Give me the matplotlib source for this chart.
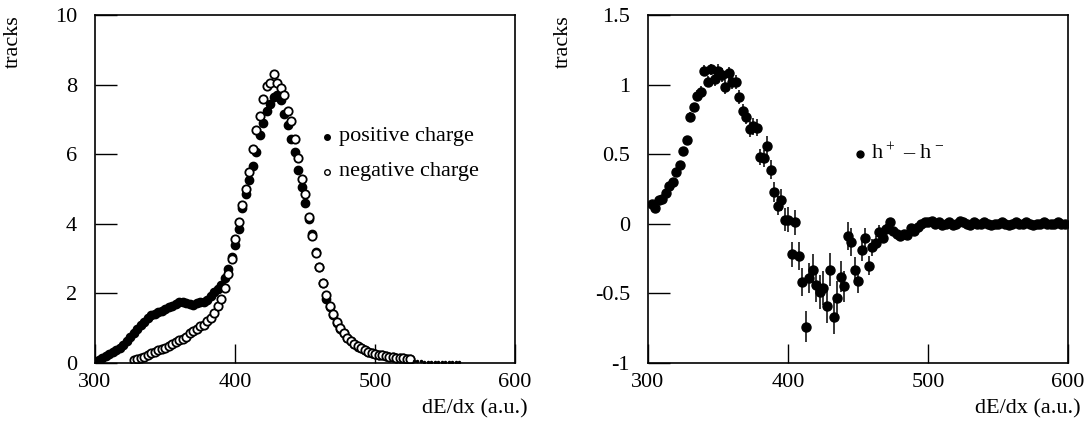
import numpy as np
import matplotlib
matplotlib.use("Agg")
import matplotlib.pyplot as plt

plt.rcParams['font.family'] = ['Liberation Serif', 'DejaVu Serif']
plt.rcParams['mathtext.fontset'] = 'custom'
plt.rcParams['mathtext.rm'] = 'Liberation Serif'
plt.rcParams['mathtext.default'] = 'regular'

# bin centres (dE/dx, a.u.)
pos_x = np.arange(302.5, 525.1, 2.5)
neg_x = np.arange(327.5, 525.1, 2.5)
tail_x = np.arange(527.5, 560.1, 2.5)
diff_x = np.arange(302.5, 597.6, 2.5)

# positive charge tracks
pos_y = [0.10, 0.15, 0.20, 0.25, 0.31, 0.37, 0.44, 0.52, 0.62, 0.74,
         0.86, 0.98, 1.09, 1.18, 1.30, 1.38, 1.42, 1.47, 1.50, 1.55,
         1.60, 1.63, 1.70, 1.74, 1.76, 1.72, 1.70, 1.68, 1.72, 1.75,
         1.74, 1.80, 1.92, 2.05, 2.14, 2.25, 2.45, 2.70, 3.05, 3.40,
         3.85, 4.45, 4.85, 5.25, 5.65, 6.05, 6.55, 6.90, 7.25, 7.45,
         7.65, 7.70, 7.55, 7.15, 6.85, 6.45, 6.05, 5.55, 5.05, 4.60,
         4.15, 3.70, 3.20, 2.75, 2.30, 1.85, 1.60, 1.38, 1.15, 0.98,
         0.85, 0.72, 0.62, 0.54, 0.47, 0.42, 0.38, 0.33, 0.30, 0.27,
         0.24, 0.22, 0.20, 0.18, 0.17, 0.15, 0.14, 0.13, 0.12, 0.12]

# negative charge tracks
neg_y = [0.10, 0.12, 0.15, 0.18, 0.22, 0.28, 0.32, 0.36, 0.40, 0.44,
         0.50, 0.54, 0.60, 0.65, 0.70, 0.76, 0.85, 0.93, 0.98, 1.05,
         1.10, 1.20, 1.30, 1.45, 1.65, 1.85, 2.15, 2.55, 3.00, 3.55,
         4.05, 4.55, 5.00, 5.50, 6.15, 6.70, 7.10, 7.60, 7.95, 8.05,
         8.30, 8.05, 7.90, 7.70, 7.25, 6.95, 6.45, 5.90, 5.30, 4.85,
         4.20, 3.65, 3.15, 2.75, 2.30, 1.95, 1.65, 1.42, 1.18, 1.00,
         0.86, 0.73, 0.63, 0.55, 0.48, 0.42, 0.38, 0.33, 0.30, 0.27,
         0.24, 0.22, 0.20, 0.18, 0.17, 0.15, 0.14, 0.13, 0.12, 0.12]

tail_y = [0.06, 0.05, 0.05, 0.04, 0.04, 0.04, 0.03, 0.03, 0.03, 0.03,
          0.02, 0.02, 0.02, 0.02]

# h+ - h-
diff_y = [0.14, 0.11, 0.17, 0.18, 0.22, 0.27, 0.30, 0.37, 0.42, 0.52,
          0.60, 0.77, 0.84, 0.92, 0.95, 1.10, 1.02, 1.11, 1.04, 1.10,
          1.07, 0.98, 1.08, 1.02, 1.02, 0.91, 0.81, 0.77, 0.68, 0.70,
          0.69, 0.48, 0.47, 0.56, 0.39, 0.23, 0.13, 0.17, 0.03, 0.03,
          -0.22, 0.01, -0.23, -0.42, -0.74, -0.39, -0.33, -0.44, -0.49, -0.46,
          -0.59, -0.33, -0.67, -0.53, -0.38, -0.45, -0.09, -0.13, -0.33, -0.41,
          -0.19, -0.10, -0.30, -0.17, -0.14, -0.06, -0.10, -0.04, 0.01, -0.05,
          -0.07, -0.09, -0.07, -0.08, -0.03, -0.05, -0.02, 0.00, 0.01, 0.01,
          0.02, 0.00, 0.01, -0.01, 0.00, 0.01, -0.01, 0.00, 0.02, 0.01,
          0.00, -0.01, 0.01, 0.00, 0.00, 0.01, 0.00, -0.01, 0.00, 0.00,
          0.01, 0.00, -0.01, 0.00, 0.01, 0.00, 0.00, 0.01, 0.00, -0.01,
          0.00, 0.00, 0.01, 0.00, 0.00, 0.00, 0.01, 0.00, 0.00]

diff_err = [0.02, 0.02, 0.02, 0.02, 0.02, 0.02, 0.02, 0.03, 0.03, 0.03,
            0.03, 0.03, 0.03, 0.04, 0.04, 0.04, 0.04, 0.04, 0.05, 0.05,
            0.05, 0.05, 0.05, 0.05, 0.05, 0.05, 0.05, 0.05, 0.06, 0.06,
            0.06, 0.06, 0.06, 0.07, 0.07, 0.07, 0.07, 0.08, 0.08, 0.09,
            0.09, 0.09, 0.10, 0.10, 0.11, 0.11, 0.11, 0.12, 0.12, 0.12,
            0.12, 0.12, 0.12, 0.12, 0.11, 0.11, 0.10, 0.10, 0.09, 0.09,
            0.08, 0.07, 0.07, 0.06, 0.05, 0.05, 0.04, 0.04, 0.03, 0.03,
            0.03, 0.03, 0.02, 0.02, 0.02, 0.02, 0.02, 0.02, 0.02, 0.02,
            0.02, 0.02, 0.01, 0.01, 0.01, 0.01, 0.01, 0.01, 0.01, 0.01,
            0.01, 0.01, 0.01, 0.01, 0.01, 0.01, 0.01, 0.01, 0.01, 0.01,
            0.01, 0.01, 0.01, 0.01, 0.01, 0.01, 0.01, 0.01, 0.01, 0.01,
            0.01, 0.01, 0.01, 0.01, 0.01, 0.01, 0.01, 0.01, 0.01]

FS = 16

fig = plt.figure(figsize=(10.92, 4.26), dpi=100)
ax1 = fig.add_axes([95 / 1092, 63 / 426, 420 / 1092, 348 / 426])
ax2 = fig.add_axes([648 / 1092, 63 / 426, 420 / 1092, 348 / 426])

# left panel
ax1.plot(pos_x, pos_y, 'o', color='black', ms=6, mec='black')
ax1.plot(neg_x, neg_y, 'o', mfc='white', mec='black', mew=1.3, ms=6)
ax1.plot(tail_x, tail_y, 'o', color='black', ms=1.5)
ax1.plot([466], [6.5], 'o', color='black', ms=4)
ax1.plot([466], [5.5], 'o', mfc='white', mec='black', mew=1, ms=4)
ax1.text(474, 6.5, 'positive charge', fontsize=FS, va='center')
ax1.text(474, 5.5, 'negative charge', fontsize=FS, va='center')
ax1.set_xlim(300, 600)
ax1.set_ylim(0, 10)
ax1.set_yticks([0, 2, 4, 6, 8, 10])
ax1.set_yticklabels(['0', '2', '4', '6', '8', '10'])

# right panel
ax2.errorbar(diff_x, diff_y, yerr=diff_err, fmt='o', color='black',
             ms=6.5, elinewidth=1.1, capsize=0)
ax2.plot([451.5], [0.5], 'o', color='black', ms=5)
ax2.text(459, 0.5, r'h$^+$ – h$^-$', fontsize=FS, va='center')
ax2.set_xlim(300, 600)
ax2.set_ylim(-1, 1.5)
ax2.set_yticks([-1, -0.5, 0, 0.5, 1, 1.5])
ax2.set_yticklabels(['-1', '-0.5', '0', '0.5', '1', '1.5'])

for ax, lx in ((ax1, -0.171), (ax2, -0.179)):
    ax.set_xticks([300, 400, 500, 600])
    ax.tick_params(axis='both', direction='in', labelsize=FS, length=14,
                   width=1.0, top=False, right=False)
    ax.tick_params(axis='y', length=16, pad=13)
    ax.tick_params(axis='x', pad=7)
    for s in ax.spines.values():
        s.set_linewidth(1.2)
    ax.set_xlabel('dE/dx (a.u.)', fontsize=FS, loc='right')
    ax.xaxis.set_label_coords(1.03, -0.105)
    ax.set_ylabel('tracks', fontsize=FS, loc='top')
    ax.yaxis.set_label_coords(lx, 1.0)

fig.savefig('out.png', dpi=100)
